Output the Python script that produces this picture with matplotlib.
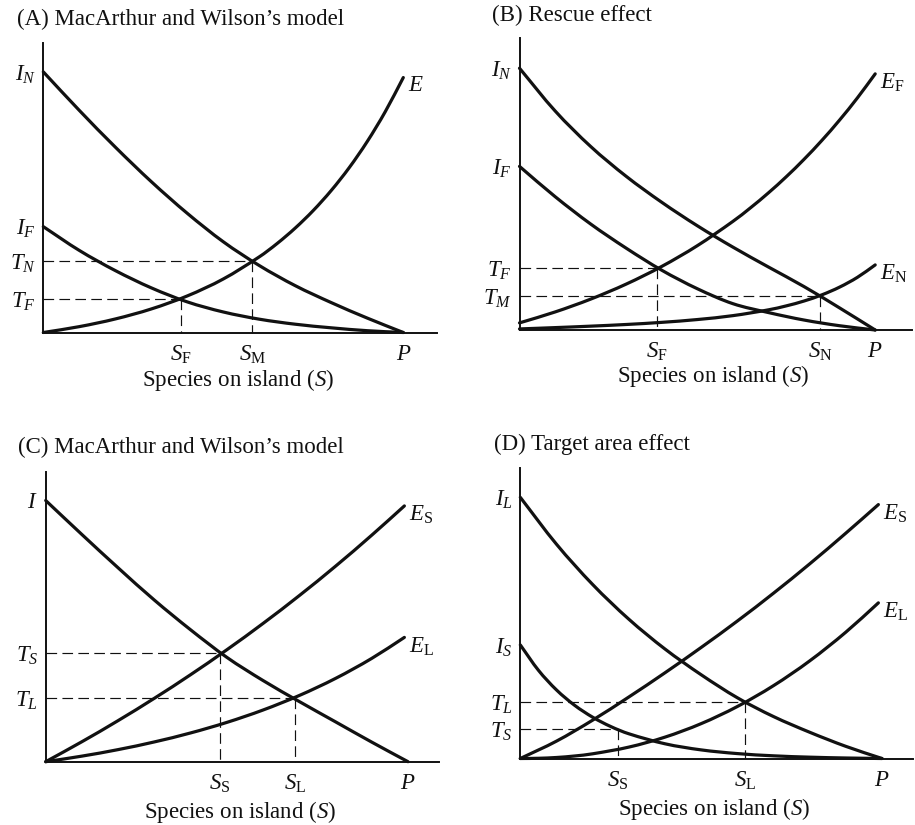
import matplotlib
matplotlib.use('Agg')
import matplotlib.pyplot as plt
from matplotlib.path import Path
from matplotlib.patches import PathPatch

plt.rcParams['font.family'] = ['Liberation Serif', 'DejaVu Serif']
plt.rcParams['mathtext.fontset'] = 'custom'
plt.rcParams['mathtext.rm'] = 'Liberation Serif'
plt.rcParams['mathtext.it'] = 'Liberation Serif:italic'
plt.rcParams['mathtext.bf'] = 'Liberation Serif:bold'

# ---------------- data ----------------
X10 = [0, 1, 2, 3, 4, 5, 6, 7, 8, 9, 10]

# Panel A
A_IN = [7.24, 6.17, 5.15, 4.19, 3.31, 2.52, 1.86, 1.30, 0.83, 0.40, 0.0]
A_IF = [2.94, 2.28, 1.72, 1.24, 0.85, 0.57, 0.37, 0.23, 0.13, 0.05, 0.0]
A_E_x = [0, 1, 2, 3, 4, 5, 6, 6.5, 7, 7.5, 8, 8.5, 9, 9.5, 10]
A_E = [0, 0.163, 0.376, 0.654, 1.016, 1.487, 2.102, 2.476, 2.903, 3.390,
       3.947, 4.582, 5.308, 6.136, 7.082]
A_S = [3.82, 5.8]          # S_F, S_M
A_T = [0.93, 1.98]         # T_F, T_N

# Panel B
B_IN = [7.36, 6.16, 5.16, 4.32, 3.59, 2.93, 2.33, 1.77, 1.22, 0.62, 0.0]
B_IF = [4.60, 3.75, 2.98, 2.30, 1.68, 1.16, 0.74, 0.49, 0.28, 0.12, 0.0]
B_EF_x = [0, 1, 2, 3, 4, 5, 6, 6.5, 7, 7.5, 8, 8.5, 9, 9.5, 10]
B_EF = [0.20, 0.507, 0.868, 1.291, 1.788, 2.371, 3.054, 3.440, 3.857, 4.309,
        4.799, 5.329, 5.904, 6.526, 7.201]
B_EN_x = [0, 1, 2, 3, 4, 5, 6, 7, 7.5, 8, 8.5, 9, 9.5, 10]
B_EN = [0.03, 0.067, 0.108, 0.155, 0.215, 0.294, 0.404, 0.567, 0.678, 0.815,
        0.988, 1.206, 1.481, 1.830]
B_S = [3.86, 8.45]         # S_F, S_N
B_T = [1.74, 0.95]         # T_F, T_M

# Panel C
C_I = [7.21, 6.27, 5.35, 4.46, 3.64, 2.88, 2.24, 1.66, 1.10, 0.54, 0.0]
C_E_x = [0, 1, 2, 3, 4, 5, 6, 7, 8, 9, 9.9]
C_ES = [0, 0.552, 1.135, 1.751, 2.402, 3.090, 3.817, 4.585, 5.396, 6.253, 7.06]
C_EL = [0, 0.154, 0.334, 0.546, 0.794, 1.085, 1.427, 1.828, 2.299, 2.852, 3.431]
C_S = [4.81, 6.88]         # S_S, S_L
C_T = [2.99, 1.76]         # T_S, T_L

# Panel D
D_IL = [7.22, 5.925, 4.811, 3.852, 3.027, 2.316, 1.68, 1.16, 0.726, 0.336, 0.0]
D_IS_x = [0, 0.5, 1, 1.5, 2, 2.5, 3, 4, 5, 6, 7, 8, 9, 10]
D_IS = [3.14, 2.441, 1.896, 1.472, 1.142, 0.884, 0.684, 0.407, 0.238, 0.136,
        0.074, 0.037, 0.014, 0.0]
D_ES_x = [0, 1, 2, 3, 4, 5, 6, 7, 8, 9, 9.9]
D_ES = [0, 0.48, 1.06, 1.70, 2.37, 3.07, 3.80, 4.57, 5.38, 6.23, 7.02]
D_EL_x = [0, 0.5, 1, 1.5, 2, 3, 4, 5, 6, 7, 8, 9, 9.9]
D_EL = [0, 0.006, 0.028, 0.069, 0.130, 0.315, 0.591, 0.964, 1.437, 2.014,
        2.698, 3.493, 4.303]
D_S = [2.69, 6.21]         # S_S, S_L
D_T = [0.81, 1.56]         # T_S, T_L

P = 10

# ---------------- drawing ----------------
W, H = 915, 825
fig = plt.figure(figsize=(W / 100, H / 100), dpi=100)
FS = 16.5
INK = '#111111'


def make_axes(ox, oy, ppu, xend, ytop):
    ax = fig.add_axes([ox / W, 1 - oy / H, xend * ppu / W, ytop * ppu / H])
    ax.set_xlim(0, xend)
    ax.set_ylim(0, ytop)
    for s in ['top', 'right']:
        ax.spines[s].set_visible(False)
    for s in ['left', 'bottom']:
        ax.spines[s].set_linewidth(1.4)
        ax.spines[s].set_color(INK)
    ax.patch.set_alpha(0)
    ax.tick_params(length=0, labelsize=FS, colors=INK)
    ax.tick_params(axis='x', pad=8)
    ax.tick_params(axis='y', pad=5.5)
    return ax


def smooth_path(x, y):
    """Smooth cubic-Bezier path passing through the given points."""
    n = len(x)
    m = []
    for i in range(n):
        if i == 0:
            m.append((y[1] - y[0]) / (x[1] - x[0]))
        elif i == n - 1:
            m.append((y[-1] - y[-2]) / (x[-1] - x[-2]))
        else:
            m.append((y[i + 1] - y[i - 1]) / (x[i + 1] - x[i - 1]))
    verts = [(x[0], y[0])]
    codes = [Path.MOVETO]
    for i in range(n - 1):
        dx = x[i + 1] - x[i]
        verts += [(x[i] + dx / 3, y[i] + m[i] * dx / 3),
                  (x[i + 1] - dx / 3, y[i + 1] - m[i + 1] * dx / 3),
                  (x[i + 1], y[i + 1])]
        codes += [Path.CURVE4] * 3
    return Path(verts, codes)


def curve(ax, x, y, label=None):
    ax.add_patch(PathPatch(smooth_path(x, y), facecolor='none', edgecolor=INK,
                           lw=2.3, clip_on=False, capstyle='round'))
    if label:
        ax.annotate(label, xy=(x[-1], y[-1]), xytext=(3.5, 1.5),
                    textcoords='offset points', ha='left', va='top',
                    fontsize=FS, color=INK, annotation_clip=False)


def dashed(ax, s, t):
    kw = dict(color=INK, lw=0.85, ls=(0, (9, 4.5)), clip_on=False)
    ax.plot([0, s], [t, t], **kw)
    ax.plot([s, s], [t, 0], **kw)


def titles(tx, ty, title, lx, ly):
    fig.text(tx / W, 1 - ty / H, title, ha='left', va='baseline',
             fontsize=FS, color=INK)
    fig.text(lx / W, 1 - ly / H, r'Species on island ($S$)', ha='center',
             va='baseline', fontsize=FS, color=INK)


# Panel A
ax = make_axes(43.3, 332.5, 36.0, 10.94, 8.04)
curve(ax, X10, A_IN)
curve(ax, X10, A_IF)
curve(ax, A_E_x, A_E, r'$E$')
for s, t in zip(A_S, A_T):
    dashed(ax, s, t)
ax.set_xticks(A_S + [P], [r'$S_{\mathrm{F}}$', r'$S_{\mathrm{M}}$', r'$P$'])
ax.set_yticks([A_IN[0], A_IF[0], A_T[1], A_T[0]],
              [r'$I_N$', r'$I_F$', r'$T_N$', r'$T_F$'])
titles(16.7, 25, '(A) MacArthur and Wilson\u2019s model', 238.5, 386)

# Panel B
ax = make_axes(519.5, 330, 35.57, 11.04, 8.2)
curve(ax, X10, B_IN)
curve(ax, X10, B_IF)
curve(ax, B_EF_x, B_EF, r'$E_{\mathrm{F}}$')
curve(ax, B_EN_x, B_EN, r'$E_{\mathrm{N}}$')
for s, t in zip(B_S, B_T):
    dashed(ax, s, t)
ax.set_xticks(B_S + [P], [r'$S_{\mathrm{F}}$', r'$S_{\mathrm{N}}$', r'$P$'])
ax.set_yticks([B_IN[0], B_IF[0], B_T[0], B_T[1]],
              [r'$I_N$', r'$I_F$', r'$T_F$', r'$T_M$'])
titles(492, 21, '(B) Rescue effect', 713.5, 382)

# Panel C
ax = make_axes(45.7, 761.7, 36.23, 10.86, 8.0)
curve(ax, X10, C_I)
curve(ax, C_E_x, C_ES, r'$E_{\mathrm{S}}$')
curve(ax, C_E_x, C_EL, r'$E_{\mathrm{L}}$')
for s, t in zip(C_S, C_T):
    dashed(ax, s, t)
ax.set_xticks(C_S + [P], [r'$S_{\mathrm{S}}$', r'$S_{\mathrm{L}}$', r'$P$'])
ax.set_yticks([C_I[0], C_T[0], C_T[1]], [r'$I$', r'$T_S$', r'$T_L$'])
titles(18.3, 453, '(C) MacArthur and Wilson\u2019s model', 240, 818)

# Panel D
ax = make_axes(520.3, 758.5, 36.17, 10.86, 8.04)
curve(ax, X10, D_IL)
curve(ax, D_IS_x, D_IS)
curve(ax, D_ES_x, D_ES, r'$E_{\mathrm{S}}$')
curve(ax, D_EL_x, D_EL, r'$E_{\mathrm{L}}$')
for s, t in zip(D_S, D_T):
    dashed(ax, s, t)
ax.set_xticks(D_S + [P], [r'$S_{\mathrm{S}}$', r'$S_{\mathrm{L}}$', r'$P$'])
ax.set_yticks([D_IL[0], D_IS[0], D_T[1], D_T[0]],
              [r'$I_L$', r'$I_S$', r'$T_L$', r'$T_S$'])
titles(493.7, 450, '(D) Target area effect', 714.5, 815)

fig.savefig('out.png', dpi=100, facecolor='white')
